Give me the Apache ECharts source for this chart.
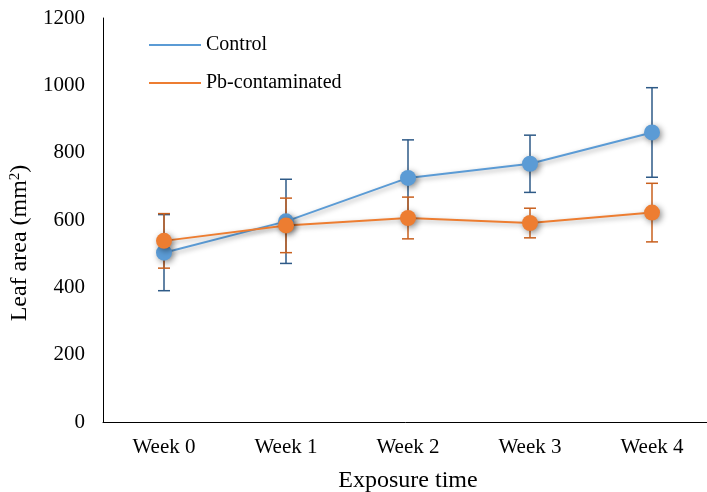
<!DOCTYPE html>
<html>
<head>
<meta charset="utf-8">
<title>Leaf area</title>
<script src="https://cdn.jsdelivr.net/npm/echarts@6/dist/echarts.min.js"></script>
<style>
  html, body { margin: 0; padding: 0; background: #fff; }
  #chart { width: 707px; height: 492px; }
</style>
</head>
<body>
<div id="chart"></div>
<script>
// data
const weeks = ['Week 0', 'Week 1', 'Week 2', 'Week 3', 'Week 4']
const seriesNames = ['Control', 'Pb-contaminated']
const controlMean = [503, 596, 725, 767, 860]
const controlErr = [113, 125, 113, 85, 133]
const pbMean = [538, 584, 606, 591, 622]
const pbErr = [81, 81, 62, 44, 87]
const yTicks = { min: 0, max: 1200, interval: 200 }

const font = "'Liberation Serif', 'Times New Roman', serif"
const blue = '#5B9BD5'
const orange = '#ED7D31'

function errorSeries (name, mean, err, color, barColor) {
  return {
    name: name,
    type: 'custom',
    data: mean.map((m, i) => [i, m - err[i], m + err[i]]),
    z: 1,
    silent: true,
    itemStyle: { color: color },
    renderItem (params, api) {
      const lo = api.coord([api.value(0), api.value(1)])
      const hi = api.coord([api.value(0), api.value(2)])
      const w = 6
      const style = { stroke: barColor, lineWidth: 1.5 }
      return {
        type: 'group',
        children: [
          { type: 'line', shape: { x1: hi[0], y1: hi[1], x2: lo[0], y2: lo[1] }, style },
          { type: 'line', shape: { x1: hi[0] - w, y1: hi[1], x2: hi[0] + w, y2: hi[1] }, style },
          { type: 'line', shape: { x1: lo[0] - w, y1: lo[1], x2: lo[0] + w, y2: lo[1] }, style }
        ]
      }
    }
  }
}

function lineSeries (name, mean, color) {
  return {
    name: name,
    type: 'line',
    data: mean,
    z: 3,
    symbol: 'circle',
    symbolSize: 16,
    itemStyle: {
      color: color,
      shadowBlur: 6,
      shadowColor: 'rgba(0,0,0,0.45)',
      shadowOffsetX: 2,
      shadowOffsetY: 2
    },
    lineStyle: {
      color: color,
      width: 2,
      shadowBlur: 5,
      shadowColor: 'rgba(0,0,0,0.35)',
      shadowOffsetX: 2,
      shadowOffsetY: 2
    }
  }
}

const chart = echarts.init(document.getElementById('chart'))
chart.setOption({
  animation: false,
  color: [blue, orange],
  textStyle: { fontFamily: font, color: '#000' },
  grid: {
    left: 103,
    top: 18,
    width: 610,
    height: 404,
    containLabel: false,
    outerBoundsMode: 'none'
  },
  legend: {
    orient: 'vertical',
    left: 144,
    top: 30,
    itemGap: 18,
    itemWidth: 52,
    itemHeight: 2,
    icon: 'rect',
    textStyle: { fontFamily: font, fontSize: 20, color: '#000' },
    data: seriesNames
  },
  xAxis: {
    type: 'category',
    data: weeks,
    boundaryGap: true,
    name: 'Exposure time',
    nameLocation: 'middle',
    nameGap: 47,
    nameTextStyle: { fontFamily: font, fontSize: 24, color: '#000' },
    axisLine: { lineStyle: { color: '#000', width: 1 } },
    axisTick: { alignWithLabel: true, length: 4, lineStyle: { color: '#000' } },
    axisLabel: { fontFamily: font, fontSize: 21, color: '#000', margin: 15 },
    splitLine: { show: false }
  },
  yAxis: {
    type: 'value',
    min: yTicks.min,
    max: yTicks.max,
    interval: yTicks.interval,
    name: 'Leaf area (mm{sup|2})',
    nameLocation: 'middle',
    nameGap: 68,
    nameRotate: 90,
    nameTextStyle: {
      fontFamily: font,
      fontSize: 24,
      color: '#000',
      padding: [0, 46, 0, 0],
      rich: {
        sup: { fontFamily: font, fontSize: 15, color: '#000', verticalAlign: 'top', padding: [0, 0, 10, 0] }
      }
    },
    axisLine: { show: true, lineStyle: { color: '#000', width: 1 } },
    axisTick: { show: false },
    axisLabel: {
      fontFamily: font,
      fontSize: 21,
      color: '#000',
      margin: 18,
      formatter: v => String(v)
    },
    splitLine: { show: false }
  },
  series: [
    errorSeries(seriesNames[0], controlMean, controlErr, blue, '#2E5A87'),
    errorSeries(seriesNames[1], pbMean, pbErr, orange, '#C9601E'),
    lineSeries(seriesNames[0], controlMean, blue),
    lineSeries(seriesNames[1], pbMean, orange)
  ]
})
</script>
</body>
</html>
